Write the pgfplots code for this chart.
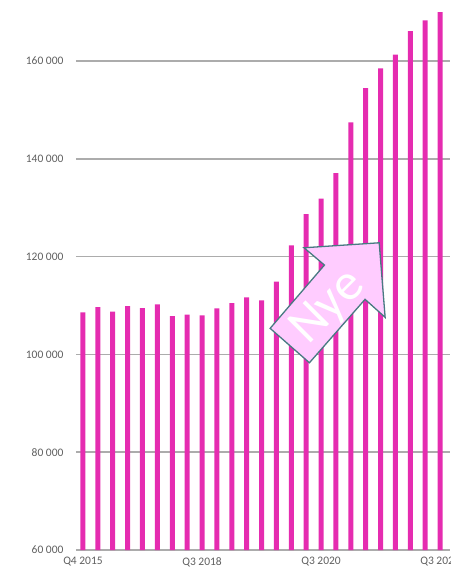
\documentclass[border=0pt]{standalone}
\usepackage{fontspec}
\setmainfont{Carlito}
\usepackage{pgfplots}
\pgfplotsset{compat=1.18}

\definecolor{barpink}{RGB}{229,44,176}
\definecolor{gridgray}{RGB}{172,172,172}
\definecolor{labgray}{RGB}{95,95,95}
\definecolor{arrowfill}{RGB}{255,204,255}
\definecolor{arrowedge}{RGB}{72,122,130}

\begin{document}
\begin{tikzpicture}
\begin{axis}[
    ybar,
    bar width=5pt,
    scale only axis,
    width=374pt,
    height=550pt,
    xmin=-0.47, xmax=24.67,
    ymin=60000, ymax=172500,
    ytick={60000,80000,100000,120000,140000,160000},
    yticklabels={60\ 000, 80\ 000, 100\ 000, 120\ 000, 140\ 000, 160\ 000},
    xtick={0,8,16,24},
    xticklabels={Q4 2015, Q3 2018, Q3 2020, Q3 2022},
    ymajorgrids,
    grid style={gridgray, line width=1.5pt},
    axis line style={draw=none},
    major tick length=0pt,
    tick label style={font=\fontsize{11.5}{13}\selectfont, text=labgray},
    yticklabel style={xshift=-9pt},
    xticklabel style={yshift=-4pt},
    clip=true,
]
\addplot[fill=barpink, draw=none] coordinates {
    (0,108610) (1,109690) (2,108740) (3,109900) (4,109490)
    (5,110240) (6,107850) (7,108120) (8,108000) (9,109420)
    (10,110510) (11,111680) (12,111060) (13,114870) (14,122310)
    (15,128710) (16,131850) (17,137100) (18,147460) (19,154480)
    (20,158500) (21,161330) (22,166140) (23,168320) (24,170020)
};
% annotation arrow
\draw[fill=arrowfill, draw=arrowedge, line width=1.3pt, line join=miter]
    (axis cs:12.58,105340) -- (axis cs:15.22,98300) -- (axis cs:18.96,111270)
    -- (axis cs:20.31,107590) -- (axis cs:19.91,122840) -- (axis cs:14.86,121820)
    -- (axis cs:16.23,118280) -- cycle;
\node[rotate=45, text=white, font=\fontsize{52}{52}\selectfont]
    at (axis cs:16.5,109500) {Nye};
\end{axis}
\pgfresetboundingbox
\useasboundingbox ([shift={(-76pt,-20pt)}]current axis.south west)
    rectangle (current axis.north east);
\end{tikzpicture}
\end{document}
